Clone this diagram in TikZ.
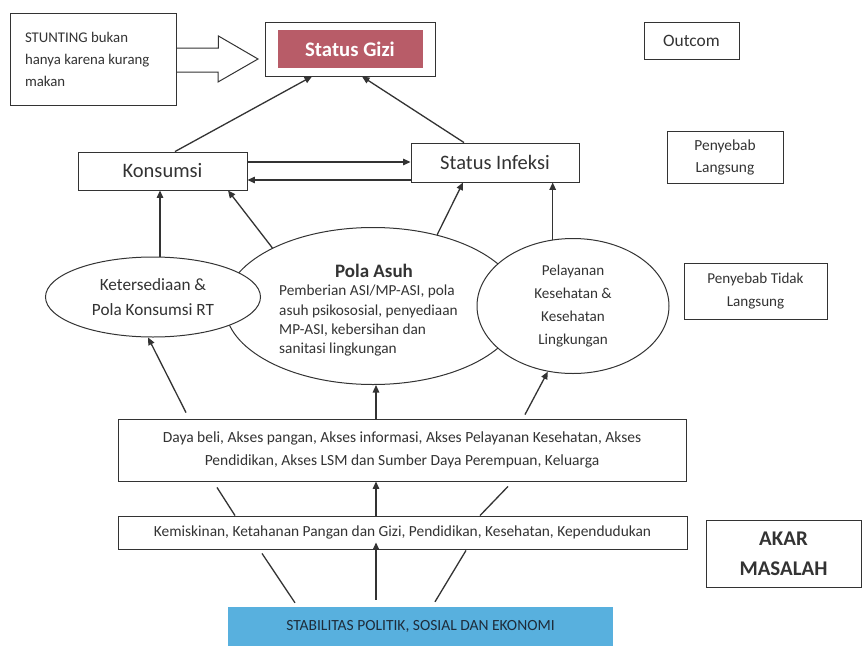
\documentclass[tikz,border=0pt]{standalone}
\usepackage{fontspec}
\setmainfont{Carlito}
\usetikzlibrary{arrows.meta,shapes.geometric,calc}
\definecolor{ink}{HTML}{333333}
\definecolor{giz}{RGB}{184,92,104}
\definecolor{stabblue}{RGB}{88,176,222}
\definecolor{stabtext}{HTML}{1E2C3A}
\tikzset{
  boxx/.style={draw=ink,line width=0.9pt,rectangle,inner sep=0pt,text=ink,align=center},
  ell/.style={draw=ink,line width=1pt,ellipse,inner sep=0pt,fill=white,text=ink,align=center},
  arr/.style={draw=ink,line width=1.3pt,-{Triangle[length=7.5pt,width=6.5pt]}},
  ln/.style={draw=ink,line width=1.3pt},
}
\begin{document}
\begin{tikzpicture}[x=1pt,y=-1pt]
\useasboundingbox[fill=white] (0,0) rectangle (862,648);

% top row
\node[boxx,minimum width=166pt,minimum height=92pt,align=left,
  font=\fontsize{14.8}{22}\selectfont] (stunt) at (93,59)
  {\raisebox{3pt}{\parbox[c]{136pt}{STUNTING bukan\\hanya karena kurang\\makan}}};
\draw[ink,line width=1pt,line join=miter]
  ([yshift=11pt]stunt.east) -- ++(42,0) -- ++(0,-12) -- (258,59) -- (218,82) -- (218,72)
  -- ([yshift=-13pt]stunt.east);

\node[boxx,minimum width=170pt,minimum height=54pt] (gizi) at (350,49) {};
\node[rectangle,fill=giz,minimum width=145pt,minimum height=38pt,inner sep=0pt,
  text=white,font=\fontsize{20.7}{24}\selectfont\bfseries] (gizitxt) at (gizi.center) {Status Gizi};

\node[boxx,minimum width=95pt,minimum height=37pt,font=\fontsize{17.4}{20}\selectfont] (outcom) at (691.5,40.5) {Outcom};

% second row
\node[boxx,minimum width=169pt,minimum height=38pt,font=\fontsize{20.5}{24}\selectfont] (kons) at (162.5,171) {Konsumsi};
\node[boxx,minimum width=168pt,minimum height=39pt,font=\fontsize{20.5}{24}\selectfont] (inf) at (495,162.5) {Status Infeksi};
\node[boxx,minimum width=116pt,minimum height=52pt,font=\fontsize{15.4}{22}\selectfont] (langs) at (725,157) {Penyebab\\Langsung};

% ellipses
\node[ell,minimum width=296pt,minimum height=157pt] (pola) at (373,306) {};
\node[text=ink,align=left,inner sep=0pt,anchor=north west,font=\fontsize{15.3}{19.3}\selectfont] (polatxt) at (279,285)
  {Pemberian ASI/MP-ASI, pola\\asuh psikososial, penyediaan\\MP-ASI, kebersihan dan\\sanitasi lingkungan};
\node[text=ink,inner sep=0pt,font=\fontsize{19}{22}\selectfont\bfseries] (polahead) at (374,271) {Pola Asuh};
\node[ell,minimum width=215pt,minimum height=80pt,font=\fontsize{17.2}{25}\selectfont] (ket) at (153,297) {Ketersediaan \&\\Pola Konsumsi RT};
\node[ell,minimum width=192pt,minimum height=135pt,font=\fontsize{15.1}{22.7}\selectfont] (pel) at (573,306) {Pelayanan\\Kesehatan \&\\Kesehatan\\Lingkungan};
\node[boxx,minimum width=143pt,minimum height=56pt,font=\fontsize{15.1}{23}\selectfont] (tidak) at (755.5,291) {Penyebab Tidak\\Langsung};

% bottom boxes
\node[boxx,minimum width=568pt,minimum height=62pt,font=\fontsize{15.5}{23}\selectfont] (daya) at (402,450)
  {Daya beli, Akses pangan, Akses informasi, Akses Pelayanan Kesehatan, Akses\\Pendidikan, Akses LSM dan Sumber Daya Perempuan, Keluarga};
\node[boxx,minimum width=569pt,minimum height=33pt,font=\fontsize{15.4}{18}\selectfont] (kemis) at (402.5,532.5)
  {Kemiskinan, Ketahanan Pangan dan Gizi, Pendidikan, Kesehatan, Kependudukan};
\node[rectangle,fill=stabblue,minimum width=385pt,minimum height=39pt,inner sep=0pt,
  text=stabtext,font=\fontsize{15.5}{18}\selectfont] (stab) at (420.5,626.5)
  {STABILITAS POLITIK, SOSIAL DAN EKONOMI};
\node[boxx,minimum width=155pt,minimum height=67pt,font=\fontsize{20.9}{30}\selectfont\bfseries] (akar) at (783.5,553.5) {AKAR\\MASALAH};

% connectors
\draw[arr] ([xshift=12.5pt]kons.north) -- ([xshift=-38pt]gizi.south);
\draw[arr] ([xshift=-31pt]inf.north) -- ([xshift=12pt]gizi.south);
\draw[arr] ([yshift=9pt]kons.east) -- ([yshift=9pt]kons.east -| inf.west);
\draw[arr] ([yshift=-9pt]kons.east -| inf.west) -- ([yshift=-9pt]kons.east);
\draw[arr] ([xshift=7pt]ket.north) -- ([xshift=7pt]ket.north |- kons.south);
\draw[arr] (pola.150) -- ([xshift=65.5pt]kons.south);
\draw[arr] (pola.48) -- ([xshift=-32pt]inf.south);
\draw[arr] (pel.107) -- (pel.107 |- inf.south);
\draw[arr] ([xshift=-216pt,yshift=6pt]daya.north) -- (ket.263);
\draw[arr] ([xshift=-26pt]daya.north) -- ([xshift=-26pt]daya.north |- pola.south);
\draw[arr] ([xshift=123pt,yshift=4pt]daya.north) -- (pel.249);
\draw[arr] ([xshift=-26.5pt]kemis.north) -- ([xshift=-26.5pt]kemis.north |- daya.south);
\draw[ln] ([xshift=-167.5pt]kemis.north) -- ([xshift=-185pt,yshift=-6pt]daya.south);
\draw[ln] ([xshift=77.5pt]kemis.north) -- ([xshift=106pt,yshift=-5pt]daya.south);
\draw[arr] ([xshift=-44.5pt,yshift=7pt]stab.north) -- ([xshift=-44.5pt,yshift=7pt]stab.north |- kemis.south);
\draw[ln] ([xshift=-125.5pt,yshift=4pt]stab.north) -- ([xshift=-140.5pt,yshift=-4pt]kemis.south);
\draw[ln] ([xshift=14.5pt,yshift=5pt]stab.north) -- ([xshift=63.5pt,yshift=-1pt]kemis.south);
\end{tikzpicture}
\end{document}
